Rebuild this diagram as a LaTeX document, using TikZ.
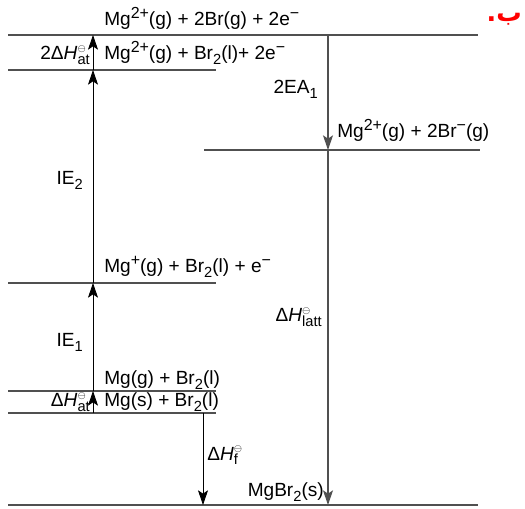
\documentclass[tikz,border=0pt]{standalone}
\usepackage{fontspec}
\setmainfont{Liberation Sans}
\newfontfamily\arabicfont[Script=Arabic]{DejaVu Sans}
\TeXXeTstate=1
\usetikzlibrary{arrows.meta}
\newcommand{\stdH}[1]{Δ\textit{H}\makebox[0pt][l]{\raisebox{0.85ex}{$\scriptscriptstyle\ominus$}}\raisebox{-0.45ex}{\fontsize{11}{12}\selectfont #1}}
\newcommand{\sbs}[1]{\raisebox{-0.45ex}{\fontsize{11}{12}\selectfont #1}}
\newcommand{\sps}[1]{\raisebox{0.75ex}{\fontsize{12}{12}\selectfont #1}}
\definecolor{lvlgray}{HTML}{505050}
\begin{document}
\begin{tikzpicture}[x=0.75pt,y=-0.75pt,
  every node/.style={font=\fontsize{14.3}{16}\selectfont, inner sep=0pt},
  lvl/.style={draw=lvlgray, line width=1.3pt},
  arr/.style={-{Stealth[length=11pt,width=7.5pt,inset=2.5pt]}, line width=0.6pt, black},
  garr/.style={-{Stealth[length=11pt,width=7.5pt,inset=2.5pt]}, line width=1.1pt, draw=lvlgray, color=lvlgray},
  lab/.style={anchor=base west},
  rlab/.style={anchor=base east}]
\useasboundingbox (0,0) rectangle (525,509);
% level coordinates
\coordinate (t0) at (8,35);   \coordinate (t1) at (478,35);
\coordinate (a0) at (8,70);   \coordinate (a1) at (216,70);
\coordinate (b0) at (204,150);\coordinate (b1) at (480,150);
\coordinate (c0) at (8,283);  \coordinate (c1) at (216,283);
\coordinate (d0) at (8,391);  \coordinate (d1) at (216,391);
\coordinate (e0) at (8,413);  \coordinate (e1) at (216,413);
\coordinate (f0) at (8,505);  \coordinate (f1) at (478,505);
% arrow points
\coordinate (tL) at (93,35); \coordinate (aL) at (93,70); \coordinate (cL) at (93,283);
\coordinate (dL) at (93,391); \coordinate (eL) at (93,413);
\coordinate (eF) at (203,413); \coordinate (fF) at (203,505);
\coordinate (tR) at (328,35); \coordinate (bR) at (328,150); \coordinate (fR) at (328,505);
% levels
\draw[lvl] (t0) -- (t1);
\draw[lvl] (a0) -- (a1);
\draw[lvl] (b0) -- (b1);
\draw[lvl] (c0) -- (c1);
\draw[lvl] (d0) -- (d1);
\draw[lvl] (e0) -- (e1);
\draw[lvl] (f0) -- (f1);
% arrows
\draw[arr] (eL) -- (dL);
\draw[arr] (dL) -- (cL);
\draw[arr] (cL) -- (aL);
\draw[arr] (aL) -- (tL);
\draw[arr] (eF) -- (fF);
\draw[garr] (tR) -- (bR);
\draw[garr] (bR) -- (fR);
% labels
\node[lab] (nT) at (104,26) {Mg\sps{2+}(g) + 2Br(g) + 2e\sps{−}};
\node[lab] (nA) at (104,60) {Mg\sps{2+}(g) + Br\sbs{2}(l)+ 2e\sps{−}};
\node[rlab] (hA) at (90,60) {2\stdH{at}};
\node[rlab] (ea) at (318,94) {2EA\sbs{1}};
\node[lab] (nB) at (337,138) {Mg\sps{2+}(g) + 2Br\sps{−}(g)};
\node[rlab] (ie2) at (83,185) {IE\sbs{2}};
\node[lab] (nC) at (104,273) {Mg\sps{+}(g) + Br\sbs{2}(l) + e\sps{−}};
\node[rlab] (latt) at (322,322) {\stdH{latt}};
\node[rlab] (ie1) at (83,347) {IE\sbs{1}};
\node[lab] (nD) at (104,385) {Mg(g) + Br\sbs{2}(l)};
\node[lab] (nE) at (104,407) {Mg(s) + Br\sbs{2}(l)};
\node[rlab] (hE) at (90,407) {\stdH{at}};
\node[lab] (hf) at (207,460) {\stdH{f}};
\node[rlab] (nF) at (324,497) {MgBr\sbs{2}(s)};
\node[text=red, anchor=base east, font=\fontsize{19}{22}\selectfont\bfseries\arabicfont] (ar) at (522,22) {\beginR ب.\endR};
\end{tikzpicture}
\end{document}
